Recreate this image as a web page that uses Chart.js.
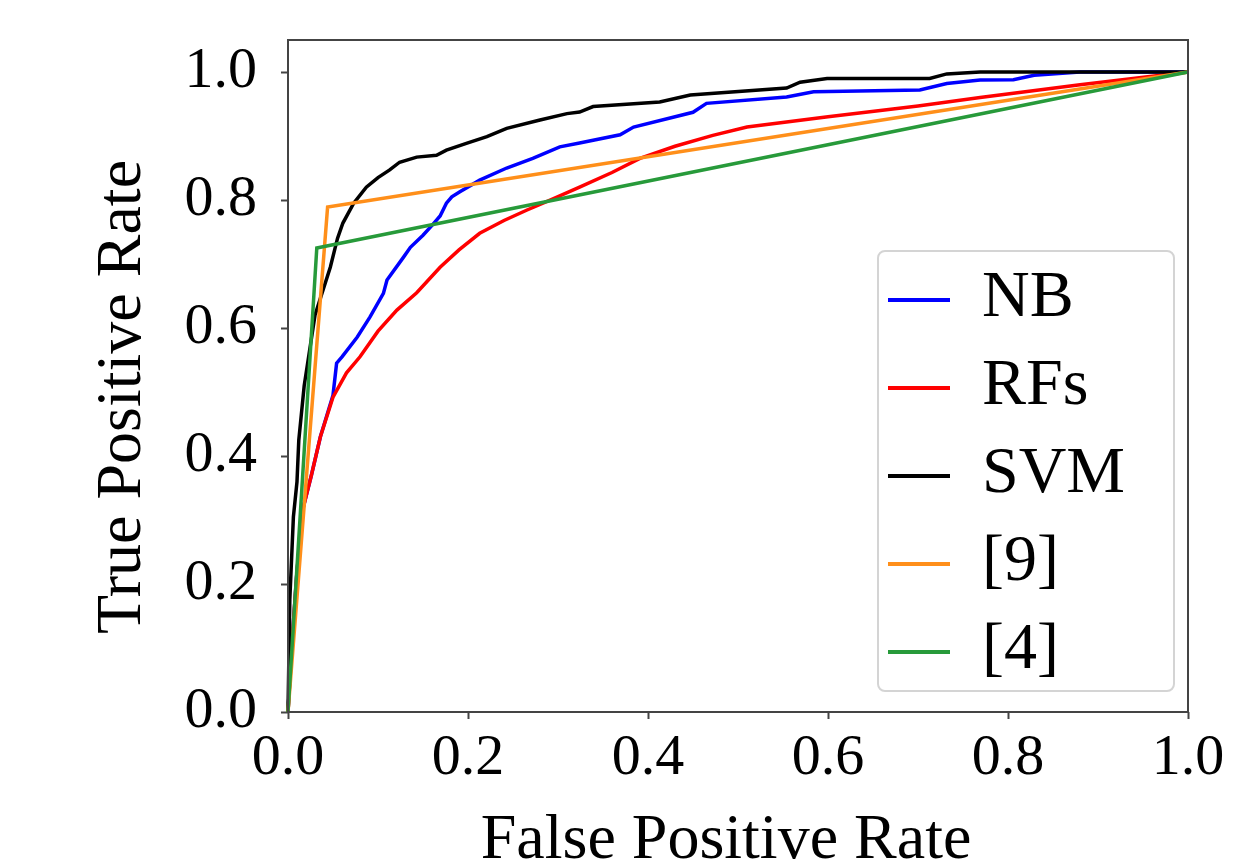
<!DOCTYPE html>
<html>
<head>
<meta charset="utf-8">
<script src="https://cdn.jsdelivr.net/npm/chart.js@4/dist/chart.umd.min.js"></script>
<style>
    body { margin: 0; background: #fff; }
    #wrap { position: relative; width: 1234px; height: 864px; }
    #legend {
        position: absolute; left: 877px; top: 250px; width: 298px; height: 442px;
        box-sizing: border-box; border: 2px solid #d4d4d4; border-radius: 8px;
        background: rgba(255, 255, 255, 0.8); padding-top: 3px;
        font-family: 'Liberation Serif', serif; font-size: 66px; color: #000;
    }
    #legend .item { position: relative; height: 88px; line-height: 88px; }
    #legend .swatch { position: absolute; left: 9px; top: 43px; width: 62px; height: 4px; }
    #legend .label { position: absolute; left: 103px; top: -5px; white-space: nowrap; }
</style>
</head>
<body>
<div id="wrap">
    <canvas id="myChart" width="1234" height="864"></canvas>
    <div id="legend"></div>
</div>
<script>
// ROC curves (false positive rate / true positive rate)
const nbFpr = [0, 0.004, 0.01, 0.017, 0.026, 0.036, 0.05, 0.054, 0.06, 0.077, 0.091, 0.106, 0.11, 0.128, 0.136, 0.15, 0.161, 0.169, 0.176, 0.182, 0.191, 0.213, 0.243, 0.272, 0.302, 0.324, 0.369, 0.384, 0.45, 0.465, 0.554, 0.584, 0.702, 0.732, 0.769, 0.806, 0.829, 0.88, 1.0];
const nbTpr = [0, 0.1, 0.22, 0.32, 0.37, 0.43, 0.495, 0.545, 0.555, 0.586, 0.617, 0.654, 0.675, 0.71, 0.726, 0.745, 0.762, 0.775, 0.795, 0.805, 0.813, 0.831, 0.85, 0.865, 0.883, 0.889, 0.902, 0.914, 0.937, 0.951, 0.961, 0.969, 0.972, 0.982, 0.9875, 0.988, 0.995, 1.0, 1.0];

const rfFpr = [0, 0.004, 0.01, 0.017, 0.026, 0.036, 0.05, 0.065, 0.08, 0.1, 0.121, 0.143, 0.169, 0.19, 0.213, 0.24, 0.265, 0.295, 0.324, 0.36, 0.391, 0.43, 0.472, 0.51, 0.6, 0.7, 0.769, 0.88, 1.0];
const rfTpr = [0, 0.1, 0.22, 0.32, 0.37, 0.43, 0.492, 0.53, 0.555, 0.595, 0.628, 0.655, 0.695, 0.722, 0.748, 0.768, 0.784, 0.802, 0.82, 0.843, 0.865, 0.884, 0.901, 0.914, 0.93, 0.947, 0.96, 0.98, 1.0];

const svmFpr = [0, 0.002, 0.006, 0.01, 0.012, 0.018, 0.03, 0.047, 0.055, 0.061, 0.073, 0.087, 0.1, 0.113, 0.124, 0.143, 0.165, 0.176, 0.199, 0.221, 0.243, 0.28, 0.31, 0.324, 0.339, 0.413, 0.447, 0.554, 0.569, 0.599, 0.713, 0.732, 0.769, 1.0];
const svmTpr = [0, 0.175, 0.305, 0.36, 0.425, 0.51, 0.62, 0.695, 0.74, 0.764, 0.795, 0.82, 0.835, 0.847, 0.859, 0.867, 0.87, 0.878, 0.889, 0.899, 0.912, 0.925, 0.935, 0.9375, 0.946, 0.953, 0.964, 0.975, 0.984, 0.99, 0.99, 0.997, 1.0, 1.0];

const ref9Fpr = [0, 0.044, 1.0];
const ref9Tpr = [0, 0.789, 1.0];

const ref4Fpr = [0, 0.032, 1.0];
const ref4Tpr = [0, 0.725, 1.0];

const labels = ['NB', 'RFs', 'SVM', '[9]', '[4]'];
const colors = ['#0000ff', '#ff0000', '#000000', '#ff8f1a', '#279a3a'];
const xTicks = [0, 0.2, 0.4, 0.6, 0.8, 1.0];
const yTicks = [0, 0.2, 0.4, 0.6, 0.8, 1.0];
const xTitle = 'False Positive Rate';
const yTitle = 'True Positive Rate';

function toPoints(xs, ys) {
    return xs.map((x, i) => ({ x: x, y: ys[i] }));
}

const series = [
    toPoints(nbFpr, nbTpr),
    toPoints(rfFpr, rfTpr),
    toPoints(svmFpr, svmTpr),
    toPoints(ref9Fpr, ref9Tpr),
    toPoints(ref4Fpr, ref4Tpr)
];

const serif = 'Liberation Serif';

// matplotlib-like frame around the plot area
const framePlugin = {
    id: 'frame',
    afterDatasetsDraw(chart) {
        const a = chart.chartArea;
        const ctx = chart.ctx;
        ctx.save();
        ctx.strokeStyle = '#444';
        ctx.lineWidth = 2;
        ctx.strokeRect(a.left, a.top, a.right - a.left, a.bottom - a.top);
        ctx.restore();
    }
};

// axis titles, placed like the original figure
const titlesPlugin = {
    id: 'axisTitles',
    afterDraw(chart) {
        const a = chart.chartArea;
        const ctx = chart.ctx;
        ctx.save();
        ctx.fillStyle = '#000';
        ctx.font = '64px "' + serif + '"';
        ctx.textAlign = 'center';
        ctx.textBaseline = 'alphabetic';
        ctx.fillText(xTitle, (a.left + a.right) / 2 - 12, a.bottom + 146);
        ctx.translate(a.left - 148, (a.top + a.bottom) / 2 + 21);
        ctx.rotate(-Math.PI / 2);
        ctx.fillText(yTitle, 0, 0);
        ctx.restore();
    }
};

const htmlLegend = {
    id: 'htmlLegend',
    afterUpdate(chart) {
        const box = document.getElementById('legend');
        box.innerHTML = '';
        chart.data.datasets.forEach(ds => {
            box.innerHTML += `
                <div class="item">
                    <span class="swatch" style="background:${ds.borderColor}"></span>
                    <span class="label">${ds.label}</span>
                </div>`;
        });
    }
};

var ctx = document.getElementById('myChart').getContext('2d');
new Chart(ctx, {
    type: 'scatter',
    data: {
        datasets: series.map((pts, i) => ({
            label: labels[i],
            data: pts,
            showLine: true,
            borderColor: colors[i],
            backgroundColor: colors[i],
            borderWidth: 3.5,
            pointRadius: 0,
            tension: 0,
            clip: 3,
            order: labels.length - i
        }))
    },
    options: {
        responsive: false,
        animation: false,
        layout: { padding: { top: 40, right: 46, left: 0, bottom: 0 } },
        plugins: {
            legend: { display: false },
            tooltip: { enabled: false }
        },
        scales: {
            x: {
                type: 'linear',
                min: 0,
                max: 1,
                afterBuildTicks: s => { s.ticks = xTicks.map(v => ({ value: v })); },
                afterFit: s => { s.height = 152; s.paddingLeft = 0; s.paddingRight = 0; },
                grid: { drawOnChartArea: false, drawTicks: true, tickLength: 7, tickWidth: 2, tickColor: '#444' },
                border: { display: false },
                ticks: {
                    padding: 5,
                    color: '#000',
                    font: { family: serif, size: 58 },
                    callback: v => v.toFixed(1)
                }
            },
            y: {
                type: 'linear',
                min: 0,
                max: 1.05,
                afterBuildTicks: s => { s.ticks = yTicks.map(v => ({ value: v })); },
                afterFit: s => { s.width = 288; s.paddingTop = 0; s.paddingBottom = 0; },
                grid: { drawOnChartArea: false, drawTicks: true, tickLength: 7, tickWidth: 2, tickColor: '#444' },
                border: { display: false },
                ticks: {
                    padding: 24,
                    color: '#000',
                    font: { family: serif, size: 58 },
                    callback: v => v.toFixed(1)
                }
            }
        }
    },
    plugins: [framePlugin, titlesPlugin, htmlLegend]
});
</script>
</body>
</html>
